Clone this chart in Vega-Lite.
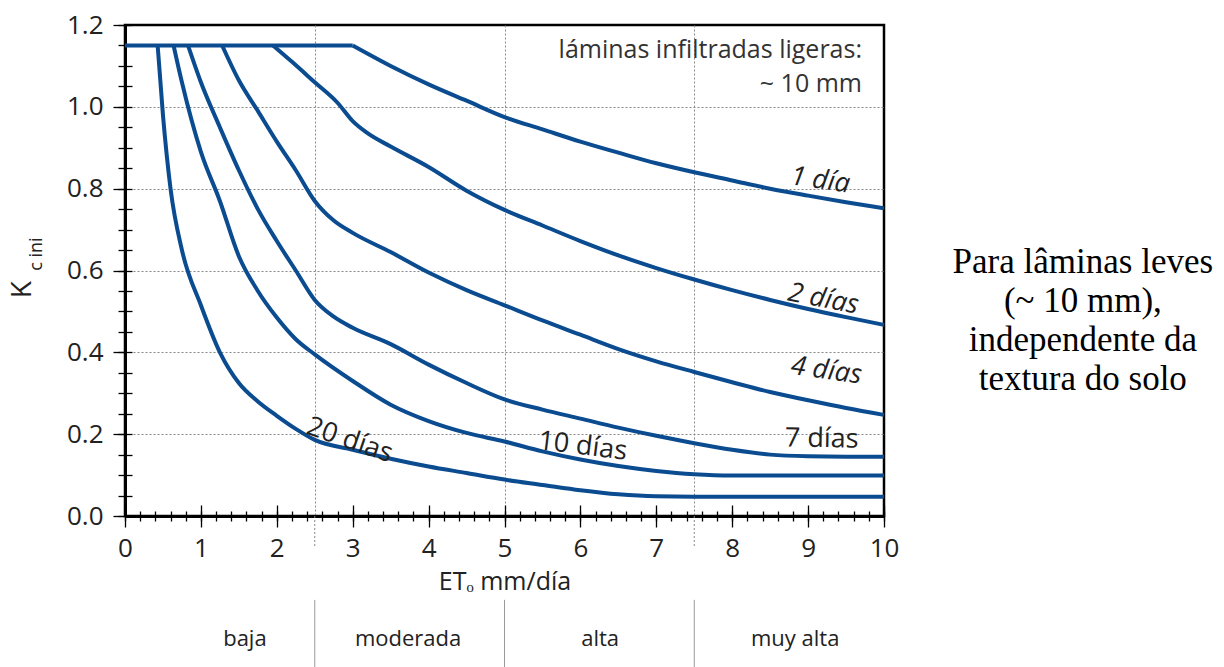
{
  "$schema": "https://vega.github.io/schema/vega-lite/v6.json",
  "width": 759,
  "height": 491,
  "autosize": {"type": "none"},
  "padding": {"left": 125, "top": 25, "right": 340, "bottom": 151},
  "background": "white",
  "config": {
    "view": {"stroke": "black", "strokeWidth": 2.5},
    "font": "Open Sans",
    "axis": {"labelFont": "Open Sans", "titleFont": "Open Sans", "labelColor": "#222", "titleColor": "#222", "tickColor": "black", "tickWidth": 1.3}
  },
  "datasets": {
    "curves": [
      {"s": "top", "x": 0, "y": 1.15}, {"s": "top", "x": 3, "y": 1.15},
      {"s": "1 día", "x": 3, "y": 1.15}, {"s": "1 día", "x": 3.5, "y": 1.1}, {"s": "1 día", "x": 4, "y": 1.055}, {"s": "1 día", "x": 4.5, "y": 1.015}, {"s": "1 día", "x": 5, "y": 0.975}, {"s": "1 día", "x": 5.5, "y": 0.945}, {"s": "1 día", "x": 6, "y": 0.915}, {"s": "1 día", "x": 6.5, "y": 0.888}, {"s": "1 día", "x": 7, "y": 0.862}, {"s": "1 día", "x": 7.5, "y": 0.84}, {"s": "1 día", "x": 8, "y": 0.82}, {"s": "1 día", "x": 8.5, "y": 0.8}, {"s": "1 día", "x": 9, "y": 0.783}, {"s": "1 día", "x": 9.5, "y": 0.767}, {"s": "1 día", "x": 10, "y": 0.752},
      {"s": "2 días", "x": 1.95, "y": 1.15}, {"s": "2 días", "x": 2.2, "y": 1.11}, {"s": "2 días", "x": 2.5, "y": 1.06}, {"s": "2 días", "x": 2.8, "y": 1.01}, {"s": "2 días", "x": 3.0, "y": 0.965}, {"s": "2 días", "x": 3.2, "y": 0.935}, {"s": "2 días", "x": 3.5, "y": 0.903}, {"s": "2 días", "x": 4.0, "y": 0.853}, {"s": "2 días", "x": 4.5, "y": 0.795}, {"s": "2 días", "x": 5.0, "y": 0.748}, {"s": "2 días", "x": 5.5, "y": 0.71}, {"s": "2 días", "x": 6.0, "y": 0.672}, {"s": "2 días", "x": 6.5, "y": 0.637}, {"s": "2 días", "x": 7.0, "y": 0.606}, {"s": "2 días", "x": 7.5, "y": 0.578}, {"s": "2 días", "x": 8.0, "y": 0.552}, {"s": "2 días", "x": 8.5, "y": 0.528}, {"s": "2 días", "x": 9.0, "y": 0.506}, {"s": "2 días", "x": 9.5, "y": 0.486}, {"s": "2 días", "x": 10, "y": 0.467},
      {"s": "4 días", "x": 1.28, "y": 1.15}, {"s": "4 días", "x": 1.5, "y": 1.065}, {"s": "4 días", "x": 1.75, "y": 0.99}, {"s": "4 días", "x": 2.0, "y": 0.915}, {"s": "4 días", "x": 2.25, "y": 0.845}, {"s": "4 días", "x": 2.5, "y": 0.77}, {"s": "4 días", "x": 2.75, "y": 0.722}, {"s": "4 días", "x": 3.0, "y": 0.692}, {"s": "4 días", "x": 3.5, "y": 0.645}, {"s": "4 días", "x": 4.0, "y": 0.595}, {"s": "4 días", "x": 4.5, "y": 0.552}, {"s": "4 días", "x": 5.0, "y": 0.515}, {"s": "4 días", "x": 5.5, "y": 0.478}, {"s": "4 días", "x": 6.0, "y": 0.443}, {"s": "4 días", "x": 6.5, "y": 0.408}, {"s": "4 días", "x": 7.0, "y": 0.378}, {"s": "4 días", "x": 7.5, "y": 0.352}, {"s": "4 días", "x": 8.0, "y": 0.327}, {"s": "4 días", "x": 8.5, "y": 0.303}, {"s": "4 días", "x": 9.0, "y": 0.283}, {"s": "4 días", "x": 9.5, "y": 0.264}, {"s": "4 días", "x": 10, "y": 0.247},
      {"s": "7 días", "x": 0.83, "y": 1.15}, {"s": "7 días", "x": 1.0, "y": 1.06}, {"s": "7 días", "x": 1.25, "y": 0.95}, {"s": "7 días", "x": 1.5, "y": 0.845}, {"s": "7 días", "x": 1.75, "y": 0.75}, {"s": "7 días", "x": 2.0, "y": 0.672}, {"s": "7 días", "x": 2.25, "y": 0.6}, {"s": "7 días", "x": 2.5, "y": 0.528}, {"s": "7 días", "x": 2.75, "y": 0.487}, {"s": "7 días", "x": 3.0, "y": 0.46}, {"s": "7 días", "x": 3.5, "y": 0.42}, {"s": "7 días", "x": 4.0, "y": 0.37}, {"s": "7 días", "x": 4.5, "y": 0.325}, {"s": "7 días", "x": 5.0, "y": 0.285}, {"s": "7 días", "x": 5.5, "y": 0.26}, {"s": "7 días", "x": 6.0, "y": 0.238}, {"s": "7 días", "x": 6.5, "y": 0.216}, {"s": "7 días", "x": 7.0, "y": 0.196}, {"s": "7 días", "x": 7.5, "y": 0.178}, {"s": "7 días", "x": 8.0, "y": 0.162}, {"s": "7 días", "x": 8.5, "y": 0.15}, {"s": "7 días", "x": 9.0, "y": 0.146}, {"s": "7 días", "x": 9.5, "y": 0.145}, {"s": "7 días", "x": 10, "y": 0.145},
      {"s": "10 días", "x": 0.64, "y": 1.15}, {"s": "10 días", "x": 0.75, "y": 1.06}, {"s": "10 días", "x": 1.0, "y": 0.89}, {"s": "10 días", "x": 1.25, "y": 0.77}, {"s": "10 días", "x": 1.5, "y": 0.635}, {"s": "10 días", "x": 1.75, "y": 0.55}, {"s": "10 días", "x": 2.0, "y": 0.485}, {"s": "10 días", "x": 2.25, "y": 0.432}, {"s": "10 días", "x": 2.5, "y": 0.395}, {"s": "10 días", "x": 3.0, "y": 0.33}, {"s": "10 días", "x": 3.5, "y": 0.272}, {"s": "10 días", "x": 4.0, "y": 0.232}, {"s": "10 días", "x": 4.5, "y": 0.203}, {"s": "10 días", "x": 5.0, "y": 0.182}, {"s": "10 días", "x": 5.5, "y": 0.158}, {"s": "10 días", "x": 6.0, "y": 0.138}, {"s": "10 días", "x": 6.5, "y": 0.122}, {"s": "10 días", "x": 7.0, "y": 0.11}, {"s": "10 días", "x": 7.5, "y": 0.102}, {"s": "10 días", "x": 8.0, "y": 0.099}, {"s": "10 días", "x": 10, "y": 0.099},
      {"s": "20 días", "x": 0.43, "y": 1.15}, {"s": "20 días", "x": 0.5, "y": 0.98}, {"s": "20 días", "x": 0.6, "y": 0.8}, {"s": "20 días", "x": 0.75, "y": 0.65}, {"s": "20 días", "x": 1.0, "y": 0.515}, {"s": "20 días", "x": 1.25, "y": 0.4}, {"s": "20 días", "x": 1.5, "y": 0.325}, {"s": "20 días", "x": 1.75, "y": 0.28}, {"s": "20 días", "x": 2.0, "y": 0.245}, {"s": "20 días", "x": 2.25, "y": 0.213}, {"s": "20 días", "x": 2.5, "y": 0.186}, {"s": "20 días", "x": 3.0, "y": 0.162}, {"s": "20 días", "x": 3.5, "y": 0.14}, {"s": "20 días", "x": 4.0, "y": 0.121}, {"s": "20 días", "x": 4.5, "y": 0.105}, {"s": "20 días", "x": 5.0, "y": 0.089}, {"s": "20 días", "x": 5.5, "y": 0.076}, {"s": "20 días", "x": 6.0, "y": 0.063}, {"s": "20 días", "x": 6.5, "y": 0.053}, {"s": "20 días", "x": 7.0, "y": 0.048}, {"s": "20 días", "x": 7.5, "y": 0.047}, {"s": "20 días", "x": 10, "y": 0.047}
    ],
    "labels": [
      {"t": "1 día", "x": 9.16, "y": 0.82},
      {"t": "2 días", "x": 9.2, "y": 0.53},
      {"t": "4 días", "x": 9.24, "y": 0.355},
      {"t": "7 días", "x": 9.18, "y": 0.188},
      {"t": "10 días", "x": 6.03, "y": 0.17},
      {"t": "20 días", "x": 2.96, "y": 0.185}
    ],
    "dividers": [{"x": 2.5}, {"x": 5}, {"x": 7.5}],
    "dashes": [{"x": 2.5}, {"x": 7.5}],
    "classes": [
      {"c": "baja", "x": 1.58},
      {"c": "moderada", "x": 3.73},
      {"c": "alta", "x": 6.26},
      {"c": "muy alta", "x": 8.83}
    ],
    "note": [
      {"t": "láminas infiltradas ligeras:", "x": 9.71, "y": 1.139},
      {"t": "~ 10 mm", "x": 9.71, "y": 1.056}
    ]
  },
  "resolve": {"axis": {"x": "independent", "y": "independent"}},
  "layer": [
    {
      "data": {"name": "dividers"},
      "mark": {"type": "rule", "color": "#999", "strokeWidth": 1},
      "encoding": {
        "x": {"field": "x", "type": "quantitative", "scale": {"domain": [0, 10], "nice": false, "zero": false},
          "axis": {"orient": "bottom", "values": [2.5, 5, 7.5], "grid": true, "gridDash": [2, 2], "gridColor": "#888", "gridWidth": 1, "ticks": false, "labels": false, "domain": false, "title": null}},
        "y": {"datum": -0.205, "type": "quantitative", "scale": {"domain": [0, 1.2], "nice": false, "zero": false},
          "axis": {"orient": "left", "values": [0.2, 0.4, 0.6, 0.8, 1.0], "grid": true, "gridDash": [2, 2], "gridColor": "#888", "gridWidth": 1, "ticks": false, "labels": false, "domain": false, "title": null}},
        "y2": {"datum": -0.37}
      }
    },
    {
      "data": {"name": "dashes"},
      "mark": {"type": "rule", "color": "#888", "strokeWidth": 1, "strokeDash": [2, 2]},
      "encoding": {
        "x": {"field": "x", "type": "quantitative", "scale": {"domain": [0, 10], "nice": false, "zero": false},
          "axis": {"orient": "bottom", "values": [0, 1, 2, 3, 4, 5, 6, 7, 8, 9, 10], "tickSize": -11, "labels": false, "domain": false, "grid": false, "title": null}},
        "y": {"datum": 0, "type": "quantitative", "scale": {"domain": [0, 1.2], "nice": false, "zero": false},
          "axis": {"orient": "left", "values": [0, 0.05, 0.1, 0.15, 0.2, 0.25, 0.3, 0.35, 0.4, 0.45, 0.5, 0.55, 0.6, 0.65, 0.7, 0.75, 0.8, 0.85, 0.9, 0.95, 1.0, 1.05, 1.1, 1.15, 1.2], "tickSize": 7, "labels": false, "domain": false, "grid": false, "title": null}},
        "y2": {"datum": -0.075}
      }
    },
    {
      "data": {"name": "classes"},
      "mark": {"type": "text", "fontSize": 22, "font": "Open Sans", "color": "#222", "baseline": "middle", "align": "center"},
      "encoding": {
        "x": {"field": "x", "type": "quantitative", "scale": {"domain": [0, 10], "nice": false, "zero": false},
          "axis": {"orient": "bottom", "values": [0, 0.2, 0.4, 0.6, 0.8, 1, 1.2, 1.4, 1.6, 1.8, 2, 2.2, 2.4, 2.6, 2.8, 3, 3.2, 3.4, 3.6, 3.8, 4, 4.2, 4.4, 4.6, 4.8, 5, 5.2, 5.4, 5.6, 5.8, 6, 6.2, 6.4, 6.6, 6.8, 7, 7.2, 7.4, 7.6, 7.8, 8, 8.2, 8.4, 8.6, 8.8, 9, 9.2, 9.4, 9.6, 9.8, 10], "tickSize": 5, "labels": false, "domain": false, "grid": false, "title": null}},
        "y": {"datum": -0.3, "type": "quantitative", "scale": {"domain": [0, 1.2], "nice": false, "zero": false},
          "axis": {"orient": "left", "values": [0, 0.05, 0.1, 0.15, 0.2, 0.25, 0.3, 0.35, 0.4, 0.45, 0.5, 0.55, 0.6, 0.65, 0.7, 0.75, 0.8, 0.85, 0.9, 0.95, 1.0, 1.05, 1.1, 1.15, 1.2], "tickSize": -7, "labels": false, "domain": false, "grid": false, "title": null}},
        "text": {"field": "c"}
      }
    },
    {
      "data": {"name": "note"},
      "mark": {"type": "text", "fontSize": 25, "font": "Open Sans", "color": "#333", "baseline": "middle", "align": "right"},
      "encoding": {
        "x": {"field": "x", "type": "quantitative", "scale": {"domain": [0, 10], "nice": false, "zero": false},
          "axis": {"orient": "bottom", "values": [0, 0.2, 0.4, 0.6, 0.8, 1, 1.2, 1.4, 1.6, 1.8, 2, 2.2, 2.4, 2.6, 2.8, 3, 3.2, 3.4, 3.6, 3.8, 4, 4.2, 4.4, 4.6, 4.8, 5, 5.2, 5.4, 5.6, 5.8, 6, 6.2, 6.4, 6.6, 6.8, 7, 7.2, 7.4, 7.6, 7.8, 8, 8.2, 8.4, 8.6, 8.8, 9, 9.2, 9.4, 9.6, 9.8, 10], "tickSize": -5, "labels": false, "domain": false, "grid": false, "title": null}},
        "y": {"field": "y", "type": "quantitative", "scale": {"domain": [0, 1.2], "nice": false, "zero": false}, "axis": null},
        "text": {"field": "t"}
      }
    },
    {
      "data": {"name": "curves"},
      "mark": {"type": "line", "color": "#0b4c90", "strokeWidth": 4, "interpolate": "monotone", "strokeCap": "butt", "strokeJoin": "round"},
      "encoding": {
        "x": {"field": "x", "type": "quantitative", "scale": {"domain": [0, 10], "nice": false, "zero": false},
          "axis": {"orient": "bottom", "values": [0, 1, 2, 3, 4, 5, 6, 7, 8, 9, 10], "format": "d", "tickSize": 11, "domain": true, "domainColor": "black", "domainWidth": 3, "grid": false, "labelFontSize": 26, "labelFlush": false, "labelPadding": 8, "title": "ETₒ  mm/día", "titleFontSize": 25, "titleFontWeight": "normal", "titlePadding": 8}},
        "y": {"field": "y", "type": "quantitative", "scale": {"domain": [0, 1.2], "nice": false, "zero": false},
          "axis": {"orient": "left", "values": [0, 0.2, 0.4, 0.6, 0.8, 1.0, 1.2], "format": ".1f", "tickSize": 12, "domain": true, "domainColor": "black", "domainWidth": 3, "grid": false, "labelFontSize": 26, "labelFlush": false, "labelPadding": 10, "title": null}},
        "detail": {"field": "s"}
      }
    },
    {
      "data": {"name": "labels"},
      "transform": [{"filter": "datum.t === '1 día'"}],
      "mark": {"type": "text", "fontSize": 27, "font": "Open Sans", "fontStyle": "italic", "color": "#222", "angle": 8, "align": "center", "baseline": "middle"},
      "encoding": {
        "x": {"field": "x", "type": "quantitative", "scale": {"domain": [0, 10], "nice": false, "zero": false}, "axis": null},
        "y": {"field": "y", "type": "quantitative", "scale": {"domain": [0, 1.2], "nice": false, "zero": false}, "axis": null},
        "text": {"field": "t"}
      }
    },
    {
      "data": {"name": "labels"},
      "transform": [{"filter": "datum.t === '2 días'"}],
      "mark": {"type": "text", "fontSize": 27, "font": "Open Sans", "fontStyle": "italic", "color": "#222", "angle": 11, "align": "center", "baseline": "middle"},
      "encoding": {
        "x": {"field": "x", "type": "quantitative", "scale": {"domain": [0, 10], "nice": false, "zero": false}, "axis": null},
        "y": {"field": "y", "type": "quantitative", "scale": {"domain": [0, 1.2], "nice": false, "zero": false}, "axis": null},
        "text": {"field": "t"}
      }
    },
    {
      "data": {"name": "labels"},
      "transform": [{"filter": "datum.t === '4 días'"}],
      "mark": {"type": "text", "fontSize": 27, "font": "Open Sans", "fontStyle": "italic", "color": "#222", "angle": 8, "align": "center", "baseline": "middle"},
      "encoding": {
        "x": {"field": "x", "type": "quantitative", "scale": {"domain": [0, 10], "nice": false, "zero": false}, "axis": null},
        "y": {"field": "y", "type": "quantitative", "scale": {"domain": [0, 1.2], "nice": false, "zero": false}, "axis": null},
        "text": {"field": "t"}
      }
    },
    {
      "data": {"name": "labels"},
      "transform": [{"filter": "datum.t === '7 días'"}],
      "mark": {"type": "text", "fontSize": 27, "font": "Open Sans", "color": "#222", "angle": 1, "align": "center", "baseline": "middle"},
      "encoding": {
        "x": {"field": "x", "type": "quantitative", "scale": {"domain": [0, 10], "nice": false, "zero": false}, "axis": null},
        "y": {"field": "y", "type": "quantitative", "scale": {"domain": [0, 1.2], "nice": false, "zero": false}, "axis": null},
        "text": {"field": "t"}
      }
    },
    {
      "data": {"name": "labels"},
      "transform": [{"filter": "datum.t === '10 días'"}],
      "mark": {"type": "text", "fontSize": 27, "font": "Open Sans", "color": "#222", "angle": 7, "align": "center", "baseline": "middle"},
      "encoding": {
        "x": {"field": "x", "type": "quantitative", "scale": {"domain": [0, 10], "nice": false, "zero": false}, "axis": null},
        "y": {"field": "y", "type": "quantitative", "scale": {"domain": [0, 1.2], "nice": false, "zero": false}, "axis": null},
        "text": {"field": "t"}
      }
    },
    {
      "data": {"name": "labels"},
      "transform": [{"filter": "datum.t === '20 días'"}],
      "mark": {"type": "text", "fontSize": 27, "font": "Open Sans", "color": "#222", "angle": 19, "align": "center", "baseline": "middle"},
      "encoding": {
        "x": {"field": "x", "type": "quantitative", "scale": {"domain": [0, 10], "nice": false, "zero": false}, "axis": null},
        "y": {"field": "y", "type": "quantitative", "scale": {"domain": [0, 1.2], "nice": false, "zero": false}, "axis": null},
        "text": {"field": "t"}
      }
    },
    {
      "data": {"values": [{"t": "K"}]},
      "mark": {"type": "text", "fontSize": 28, "font": "Open Sans", "color": "#222", "angle": 270, "align": "center", "baseline": "middle"},
      "encoding": {
        "x": {"datum": -1.344, "type": "quantitative", "scale": {"domain": [0, 10], "nice": false, "zero": false}, "axis": null},
        "y": {"datum": 0.553, "type": "quantitative", "scale": {"domain": [0, 1.2], "nice": false, "zero": false}, "axis": null},
        "text": {"field": "t"}
      }
    },
    {
      "data": {"values": [{"t": "c ini"}]},
      "mark": {"type": "text", "fontSize": 18, "font": "Open Sans", "color": "#222", "angle": 270, "align": "center", "baseline": "middle"},
      "encoding": {
        "x": {"datum": -1.159, "type": "quantitative", "scale": {"domain": [0, 10], "nice": false, "zero": false}, "axis": null},
        "y": {"datum": 0.64, "type": "quantitative", "scale": {"domain": [0, 1.2], "nice": false, "zero": false}, "axis": null},
        "text": {"field": "t"}
      }
    },
    {
      "data": {"values": [{"t": "Para lâminas leves\n(~ 10 mm),\nindependente da\ntextura do solo"}]},
      "mark": {"type": "text", "fontSize": 35, "font": "Liberation Serif", "color": "black", "align": "center", "baseline": "middle", "lineBreak": "\n", "lineHeight": 39},
      "encoding": {
        "x": {"datum": 12.62, "type": "quantitative", "scale": {"domain": [0, 10], "nice": false, "zero": false}, "axis": null},
        "y": {"datum": 0.62, "type": "quantitative", "scale": {"domain": [0, 1.2], "nice": false, "zero": false}, "axis": null},
        "text": {"field": "t"}
      }
    }
  ]
}
